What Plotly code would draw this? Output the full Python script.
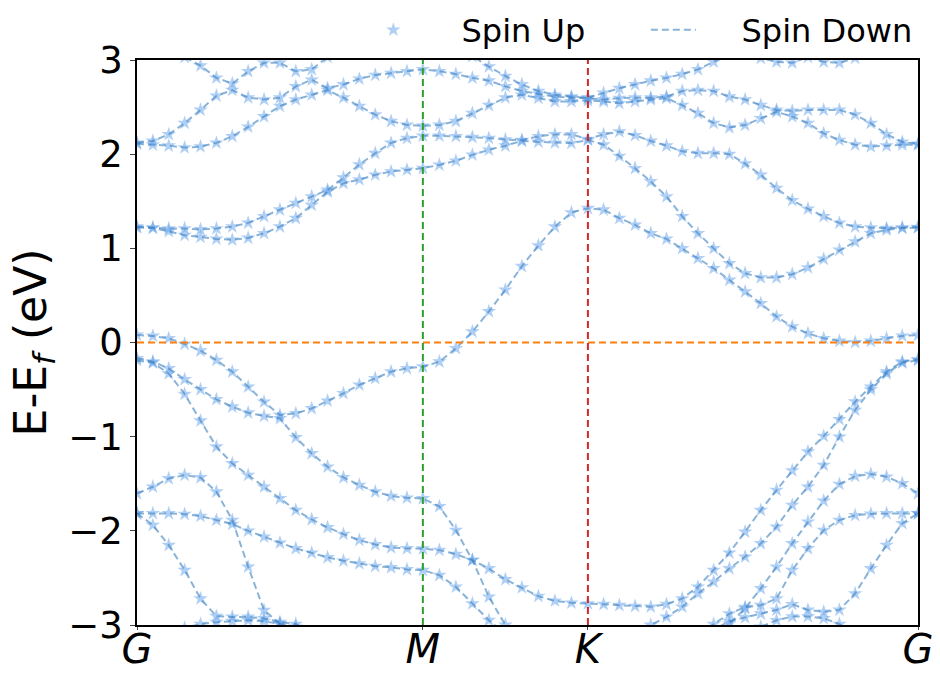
import numpy as np
import plotly.graph_objects as go

# ---- k-path G-M-K-G of the hexagonal Brillouin zone (units of 2*pi/a) ----
path_labels = ["G", "M", "K", "G"]
seg_lengths = [1 / np.sqrt(3), 1 / 3, 2 / 3]
seg_npts = [18, 10, 21]

kpts = [0.0]
start = 0.0
for L, n in zip(seg_lengths, seg_npts):
    kpts.extend(np.linspace(start, start + L, n + 1)[1:].tolist())
    start += L
kpts = np.array(kpts)
k_nodes = np.concatenate([[0.0], np.cumsum(seg_lengths)])

# ---- band energies E - E_f (eV), one value per k-point (G-M | M-K | K-G) ----
band_c3 = [3.30, 3.25, 3.15, 3.03, 2.94, 2.81, 2.75, 2.88, 2.97, 2.97, 2.88, 2.90, 3.03, 3.12, 3.18, 3.22, 3.25, 3.26, 3.26,
           3.22, 3.14, 3.04, 2.93, 2.83, 2.74, 2.67, 2.63, 2.61, 2.60,
           2.65, 2.70, 2.74, 2.78, 2.81, 2.85, 2.90, 2.98, 3.06, 3.08, 3.02, 2.98, 2.97, 3.03, 2.98, 2.97, 3.02, 3.10, 3.18, 3.24, 3.27]
band_c2 = [2.12, 2.14, 2.21, 2.33, 2.47, 2.62, 2.68, 2.60, 2.58, 2.60, 2.72, 2.79, 2.70, 2.74, 2.80, 2.84, 2.86, 2.88, 2.90,
           2.88, 2.85, 2.81, 2.78, 2.72, 2.67, 2.64, 2.61, 2.60, 2.595,
           2.58, 2.595, 2.60, 2.60, 2.61, 2.67, 2.68, 2.67, 2.61, 2.58, 2.52, 2.47, 2.46, 2.47, 2.47, 2.47, 2.42, 2.33, 2.21, 2.13, 2.11]
band_c1 = [2.11, 2.10, 2.09, 2.07, 2.08, 2.12, 2.19, 2.29, 2.40, 2.51, 2.58, 2.63, 2.68, 2.60, 2.51, 2.42, 2.35, 2.31, 2.30,
           2.31, 2.35, 2.435, 2.52, 2.60, 2.63, 2.595, 2.56, 2.56, 2.57,
           2.56, 2.54, 2.56, 2.58, 2.595, 2.52, 2.435, 2.33, 2.283, 2.31, 2.38, 2.45, 2.40, 2.33, 2.22, 2.15, 2.10, 2.08, 2.09, 2.10, 2.10]
band_b2 = [1.23, 1.22, 1.21, 1.21, 1.20, 1.21, 1.23, 1.27, 1.34, 1.41, 1.48, 1.55, 1.62, 1.75, 1.89, 2.01, 2.12, 2.17, 2.195,
           2.195, 2.19, 2.18, 2.17, 2.155, 2.15, 2.19, 2.21, 2.21, 2.16,
           2.21, 2.24, 2.20, 2.14, 2.09, 2.03, 2.01, 2.01, 2.00, 1.90, 1.78, 1.64, 1.51, 1.42, 1.34, 1.27, 1.23, 1.22, 1.215, 1.22, 1.225]
band_b1 = [1.22, 1.215, 1.18, 1.14, 1.12, 1.10, 1.09, 1.11, 1.16, 1.23, 1.32, 1.46, 1.60, 1.69, 1.73, 1.78, 1.815, 1.833, 1.851,
           1.886, 1.929, 1.993, 2.046, 2.09, 2.14, 2.13, 2.12, 2.117, 2.15,
           2.10, 1.98, 1.85, 1.71, 1.55, 1.34, 1.16, 1.00, 0.84, 0.735, 0.69, 0.69, 0.725, 0.795, 0.887, 0.983, 1.07, 1.16, 1.196, 1.215, 1.22]
band_f = [0.08, 0.069, 0.044, -0.016, -0.087, -0.186, -0.31, -0.47, -0.63, -0.77, -0.753, -0.70, -0.62, -0.54, -0.45, -0.38, -0.31, -0.275, -0.257,
          -0.204, -0.062, 0.115, 0.33, 0.56, 0.81, 1.03, 1.23, 1.38, 1.426,
          1.41, 1.32, 1.25, 1.16, 1.10, 1.00, 0.894, 0.788, 0.664, 0.54, 0.416, 0.275, 0.168, 0.097, 0.044, 0.016, 0.002, 0.016, 0.044, 0.07, 0.08]
band_v1 = [-0.168, -0.204, -0.275, -0.392, -0.498, -0.604, -0.682, -0.746, -0.781, -0.806, -1.008, -1.178, -1.32, -1.433, -1.514, -1.585, -1.631, -1.649, -1.656,
           -1.74, -1.993, -2.311, -2.701, -3.0, -3.2, -3.35, -3.42, -3.45, -3.45,
           -3.42, -3.3, -3.15, -3.0, -2.914, -2.807, -2.666, -2.541, -2.40, -2.276, -2.134, -1.957, -1.727, -1.532, -1.302, -1.001, -0.717, -0.50, -0.33, -0.215, -0.19]
band_v2 = [-0.19, -0.215, -0.33, -0.547, -0.831, -1.107, -1.284, -1.408, -1.532, -1.656, -1.78, -1.879, -1.964, -2.035, -2.099, -2.145, -2.177, -2.187, -2.19,
           -2.205, -2.248, -2.311, -2.40, -2.516, -2.602, -2.694, -2.744, -2.765, -2.772,
           -2.779, -2.79, -2.80, -2.807, -2.779, -2.719, -2.595, -2.418, -2.234, -2.01, -1.78, -1.567, -1.36, -1.16, -0.994, -0.816, -0.629, -0.47, -0.31, -0.204, -0.179]
band_v3 = [-1.603, -1.532, -1.444, -1.408, -1.433, -1.585, -1.886, -2.382, -2.843, -2.985, -3.05, -3.15, -3.25, -3.35, -3.4, -3.45, -3.5, -3.5, -3.5,
           -3.5, -3.5, -3.5, -3.5, -3.5, -3.5, -3.5, -3.5, -3.5, -3.5,
           -3.5, -3.5, -3.5, -3.5, -3.45, -3.4, -3.3, -3.15, -2.985, -2.825, -2.612, -2.382, -2.134, -1.904, -1.681, -1.504, -1.419, -1.397, -1.426, -1.497, -1.603]
band_v4 = [-1.815, -1.815, -1.815, -1.823, -1.844, -1.886, -1.929, -2.0, -2.063, -2.127, -2.187, -2.234, -2.283, -2.318, -2.347, -2.375, -2.389, -2.41, -2.418,
           -2.471, -2.595, -2.772, -2.949, -3.1, -3.2, -3.3, -3.35, -3.4, -3.4,
           -3.4, -3.4, -3.35, -3.3, -3.25, -3.2, -3.1, -2.99, -2.88, -2.81, -2.79, -2.72, -2.418, -2.187, -1.993, -1.886, -1.835, -1.82, -1.815, -1.815, -1.815]
band_v5 = [-1.815, -1.939, -2.152, -2.418, -2.72, -2.907, -2.914, -2.914, -2.93, -2.97, -2.99, -3.1, -3.2, -3.3, -3.4, -3.5, -3.5, -3.5, -3.5,
           -3.5, -3.5, -3.5, -3.5, -3.5, -3.5, -3.5, -3.5, -3.5, -3.5,
           -3.5, -3.5, -3.5, -3.45, -3.35, -3.25, -3.15, -3.05, -2.96, -2.92, -2.88, -2.84, -2.78, -2.84, -2.86, -2.84, -2.666, -2.40, -2.152, -1.921, -1.815]
band_v6 = [-3.4, -3.3, -3.15, -3.03, -2.99, -2.97, -2.96, -2.95, -2.96, -2.99, -3.02, -3.1, -3.2, -3.3, -3.4, -3.5, -3.5, -3.5, -3.5,
           -3.5, -3.5, -3.5, -3.5, -3.5, -3.5, -3.5, -3.5, -3.5, -3.5,
           -3.5, -3.5, -3.5, -3.5, -3.5, -3.45, -3.35, -3.25, -3.15, -3.08, -3.02, -2.95, -2.91, -2.91, -2.93, -2.99, -3.1, -3.2, -3.3, -3.35, -3.4]

bands = [band_c3, band_c2, band_c1, band_b2, band_b1, band_f,
         band_v1, band_v2, band_v3, band_v4, band_v5, band_v6]

y_ticks = [-3, -2, -1, 0, 1, 2, 3]
y_tick_text = ["\u22123", "\u22122", "\u22121", "0", "1", "2", "3"]

FONT = "DejaVu Sans"
up_color = "rgba(95,160,235,0.5)"
down_color = "rgba(60,128,190,0.6)"
PAD = "\u00a0" * 4  # gap between legend symbol and label

fig = go.Figure()

# spin up: star markers at every k-point
for i, b in enumerate(bands):
    fig.add_trace(go.Scatter(
        x=kpts, y=b, mode="markers", name=PAD + "Spin Up",
        legendgroup="up", showlegend=(i == 0),
        marker=dict(symbol="star", size=11, color=up_color, line=dict(width=0)),
    ))

# spin down: dashed lines
for i, b in enumerate(bands):
    fig.add_trace(go.Scatter(
        x=kpts, y=b, mode="lines", name=PAD + "Spin Down",
        legendgroup="down", showlegend=(i == 0),
        line=dict(color=down_color, width=2, dash="7px,4px"),
    ))

# Fermi level and high-symmetry markers
fig.add_shape(type="line", xref="x", yref="y", x0=k_nodes[0], x1=k_nodes[-1], y0=0, y1=0,
              line=dict(color="#ff7f0e", width=2, dash="7px,4px"), layer="above")
fig.add_shape(type="line", xref="x", yref="y", x0=k_nodes[1], x1=k_nodes[1], y0=-3, y1=3,
              line=dict(color="#2ca02c", width=2, dash="7px,4px"), layer="above")
fig.add_shape(type="line", xref="x", yref="y", x0=k_nodes[2], x1=k_nodes[2], y0=-3, y1=3,
              line=dict(color="#d62728", width=2, dash="7px,4px"), layer="above")

fig.update_layout(
    width=940, height=673,
    margin=dict(l=137, r=22, t=60, b=48, autoexpand=False),
    paper_bgcolor="white", plot_bgcolor="white",
    font=dict(family=FONT, color="black"),
    legend=dict(orientation="h", x=0.293, xanchor="left", y=1.053, yanchor="middle",
                font=dict(size=32, family=FONT), bgcolor="rgba(0,0,0,0)",
                itemwidth=45, tracegroupgap=0, entrywidth=220),
)
fig.update_xaxes(
    range=[k_nodes[0], k_nodes[-1]], tickvals=k_nodes,
    ticktext=[f"<i>{t}</i>" for t in path_labels],
    tickfont=dict(size=40, family=FONT), ticks="outside", ticklen=3, automargin=False,
    ticklabelstandoff=-15,
    showgrid=False, zeroline=False, showline=True, linecolor="black", linewidth=1.5, mirror=True,
)
fig.update_yaxes(
    range=[-3, 3], tickvals=y_ticks, ticktext=y_tick_text,
    tickfont=dict(size=37, family=FONT), ticks="outside", ticklen=5, automargin=False,
    showgrid=False, zeroline=False, showline=True, linecolor="black", linewidth=1.5, mirror=True,
    title=dict(text="E-E<sub><i>f</i></sub> (eV)", font=dict(size=44, family=FONT), standoff=8),
)

fig.write_html("out.html")
